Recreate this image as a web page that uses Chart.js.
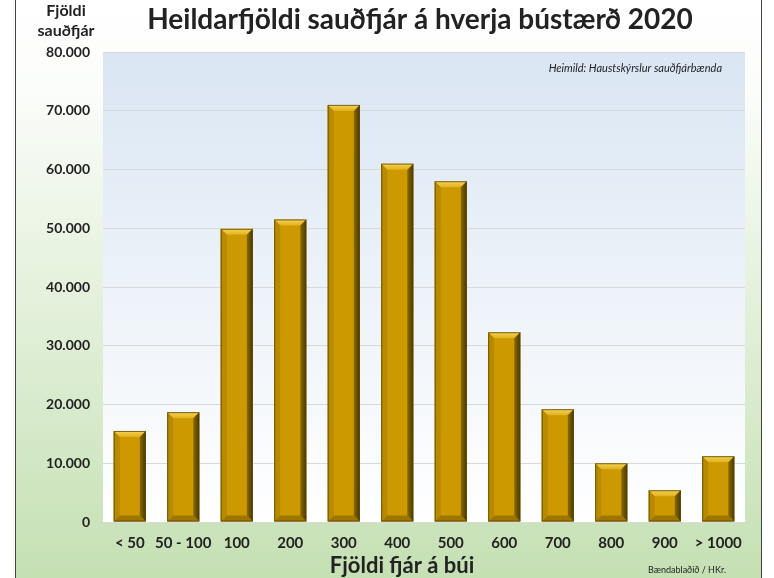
<!DOCTYPE html>
<html><head><meta charset="utf-8">
<script src="https://cdn.jsdelivr.net/npm/chart.js@4/dist/chart.umd.min.js"></script>
<style>html,body{margin:0;padding:0;background:#fff;}#wrap{width:774px;height:578px;position:relative;}</style>
</head><body><div id="wrap"><canvas id="c" width="774" height="578"></canvas></div>
<script>
const categories = ['< 50','50 - 100','100','200','300','400','500','600','700','800','900','> 1000'];
const sheepCounts = [15500,18700,49900,51500,71000,61000,58000,32300,19200,10000,5400,11200];
const yTicks = [0,10000,20000,30000,40000,50000,60000,70000,80000];
const titleText = 'Heildarfjöldi sauðfjár á hverja bústærð 2020';
const yTitleLines = ['Fjöldi','sauðfjár'];
const xTitleText = 'Fjöldi fjár á búi';
const sourceText = 'Heimild: Haustskýrslur sauðfjárbænda';
const creditText = 'Bændablaðið / HKr.';

const FONT = 'Lato, "Open Sans", sans-serif';
const fmt = v => String(v).replace(/\B(?=(\d{3})+(?!\d))/g, '.');

const decor = {
  id:'decor',
  beforeDraw(chart){
    const {ctx, chartArea:a} = chart;
    ctx.save();
    const g = ctx.createLinearGradient(0,0,0,578);
    g.addColorStop(0,'#ffffff'); g.addColorStop(0.15,'#fbfdfa'); g.addColorStop(1,'#c5e0b3');
    ctx.fillStyle = g; ctx.fillRect(16,0,745,578);
    ctx.fillStyle='#ffffff'; ctx.fillRect(0,0,16,578); ctx.fillRect(761,0,13,578);
    ctx.fillStyle='#444'; ctx.fillRect(15,0,1,578); ctx.fillRect(761,0,1,578);
    const p = ctx.createLinearGradient(0,a.top,0,a.bottom);
    p.addColorStop(0,'#dae6f3'); p.addColorStop(1,'#ffffff');
    ctx.fillStyle = p; ctx.fillRect(a.left,a.top,a.right-a.left,a.bottom-a.top);
    ctx.restore();
  },
  afterDraw(chart){
    const {ctx, chartArea:a} = chart;
    ctx.save();
    ctx.fillStyle='#222';
    ctx.textAlign='center'; ctx.textBaseline='middle';
    ctx.font = 'bold 28px '+FONT;
    ctx.fillText(titleText, 420, 20);
    ctx.font = 'bold 16px '+FONT;
    ctx.fillText(yTitleLines[0], 66, 11);
    ctx.fillText(yTitleLines[1], 66, 31);
    ctx.font = 'bold 22px '+FONT;
    ctx.fillText(xTitleText, 402, 566);
    ctx.font = 'italic 11px '+FONT;
    ctx.textAlign='right';
    ctx.fillText(sourceText, 722, 68);
    ctx.font = '9px '+FONT;
    ctx.fillText(creditText, 726, 570);
    ctx.restore();
  }
};

const bevel = {
  id:'bevel',
  afterDatasetsDraw(chart){
    const {ctx} = chart;
    const meta = chart.getDatasetMeta(0);
    ctx.save();
    meta.data.forEach(el => {
      const p = el.getProps(['x','y','base','width'], true);
      const l = p.x - p.width/2, r = p.x + p.width/2, t = p.y, b = p.base;
      const s = Math.min(6, (b-t)/3);
      let g = ctx.createLinearGradient(0,t,0,t+s);
      g.addColorStop(0,'#f5d35a'); g.addColorStop(1,'#e3b11a');
      ctx.fillStyle=g; ctx.beginPath(); ctx.moveTo(l,t); ctx.lineTo(r,t); ctx.lineTo(r-s,t+s); ctx.lineTo(l+s,t+s); ctx.closePath(); ctx.fill();
      g = ctx.createLinearGradient(r-s,0,r,0);
      g.addColorStop(0,'#8a6a00'); g.addColorStop(1,'#4a3800');
      ctx.fillStyle=g; ctx.beginPath(); ctx.moveTo(r,t); ctx.lineTo(r,b); ctx.lineTo(r-s,b-s); ctx.lineTo(r-s,t+s); ctx.closePath(); ctx.fill();
      ctx.fillStyle='#b88a00'; ctx.beginPath(); ctx.moveTo(l,t); ctx.lineTo(l+s,t+s); ctx.lineTo(l+s,b-s); ctx.lineTo(l,b); ctx.closePath(); ctx.fill();
      ctx.fillStyle='#9c7600'; ctx.beginPath(); ctx.moveTo(l,b); ctx.lineTo(l+s,b-s); ctx.lineTo(r-s,b-s); ctx.lineTo(r,b); ctx.closePath(); ctx.fill();
      ctx.strokeStyle='rgba(90,70,10,0.8)'; ctx.lineWidth=1;
      ctx.strokeRect(l+0.5,t+0.5,r-l-1,b-t-1);
    });
    ctx.restore();
  }
};

new Chart(document.getElementById('c'), {
  type:'bar',
  data:{ labels:categories, datasets:[{ data:sheepCounts, backgroundColor:'#cc9a00', borderWidth:0, barPercentage:0.6, categoryPercentage:1 }]},
  options:{
    responsive:false, animation:false, devicePixelRatio:1,
    layout:{ padding:{ left:16, top:52, right:29, bottom:0 } },
    plugins:{ legend:{display:false}, tooltip:{enabled:false}, title:{display:false} },
    scales:{
      x:{
        grid:{ display:false, drawTicks:false },
        border:{ display:false },
        ticks:{ color:'#222', font:{ family:FONT, size:15, weight:'bold' }, padding:12, maxRotation:0, autoSkip:false },
        afterFit(s){ s.height = 56; }
      },
      y:{
        min:0, max:80000,
        afterBuildTicks(s){ s.ticks = yTicks.map(v=>({value:v})); },
        grid:{ color:'#d9d9d9', drawTicks:false, lineWidth:1 },
        border:{ display:false },
        ticks:{ color:'#222', font:{ family:FONT, size:14, weight:'bold' }, padding:13, callback:v=>fmt(v) },
        afterFit(s){ s.width = 87; }
      }
    }
  },
  plugins:[decor, bevel]
});
</script></body></html>
